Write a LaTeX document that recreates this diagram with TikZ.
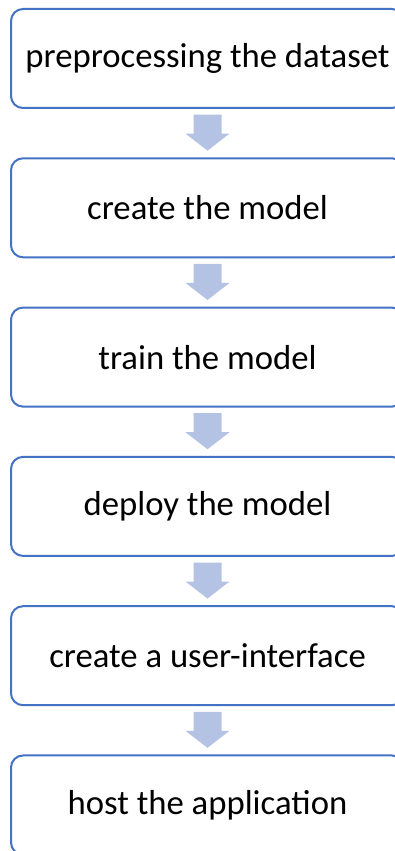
\documentclass[tikz,border=0pt]{standalone}
\usepackage{fontspec}
\setmainfont{Carlito}
\usetikzlibrary{positioning,calc}
\definecolor{boxblue}{HTML}{4472C4}
\definecolor{arrowblue}{HTML}{B4C2E3}
\tikzset{
  stepbox/.style={draw=boxblue, line width=2pt, rounded corners=12pt, fill=white,
    minimum width=393pt, minimum height=99pt, inner sep=0pt, outer sep=0pt,
    font=\fontsize{34.7}{40}\selectfont, text=black},
  blockarrow/.style={fill=arrowblue, draw=none}
}
\begin{document}
\begin{tikzpicture}[x=1pt,y=1pt, node distance=50.3pt]
\useasboundingbox (0,0) rectangle (395,851);
\clip (0,0) rectangle (395,851);
\node[stepbox] (b1) at (207.5,792.5) {preprocessing the dataset};
\node[stepbox, below=of b1] (b2) {create the model};
\node[stepbox, below=of b2] (b3) {train the model};
\node[stepbox, below=of b3] (b4) {deploy the model};
\node[stepbox, below=of b4] (b5) {create a user-interface};
\node[stepbox, below=of b5] (b6) {host the application};
\foreach \a/\b [count=\i] in {b1/b2,b2/b3,b3/b4,b4/b5,b5/b6}{
  \coordinate (m\i) at ($(\a.south)!0.5!(\b.north)$);
  \fill[blockarrow, shift={(m\i)}] (-14,18.5) -- (14,18.5) -- (14,-0.5) -- (22,-0.5)
    -- (0,-17.5) -- (-22,-0.5) -- (-14,-0.5) -- cycle;
}
\end{tikzpicture}
\end{document}
